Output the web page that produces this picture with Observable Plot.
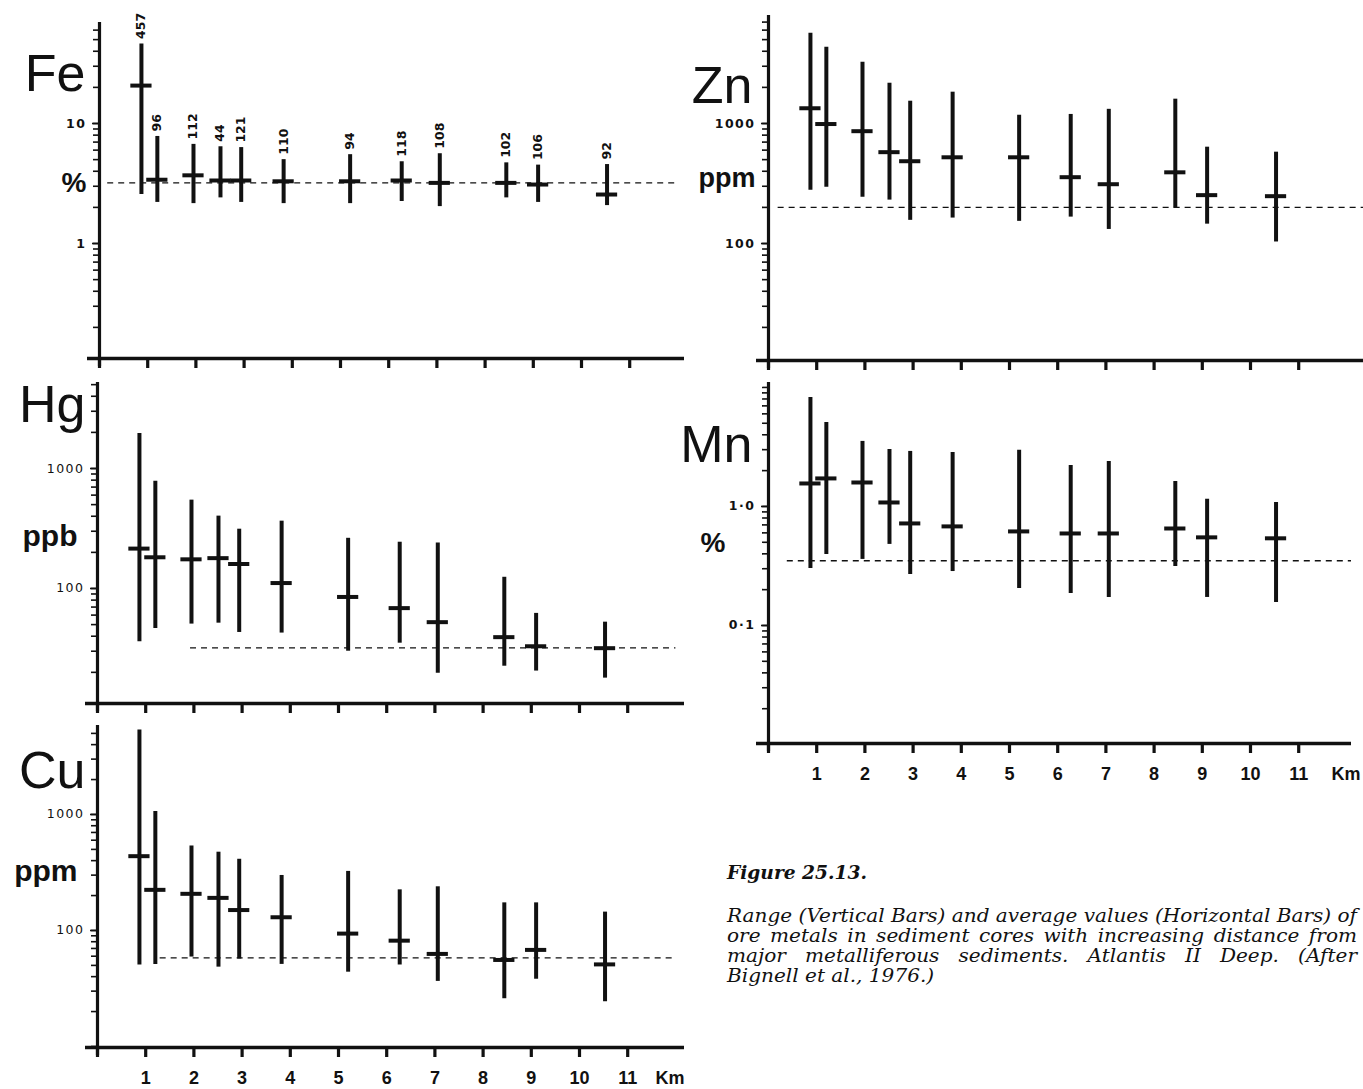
<!DOCTYPE html>
<html><head><meta charset="utf-8">
<script src="https://cdn.jsdelivr.net/npm/d3@7"></script>
<script src="https://cdn.jsdelivr.net/npm/@observablehq/plot@0.6"></script>
<style>
html,body{margin:0;padding:0;background:#fff;overflow:hidden}
#fig{position:relative;width:1363px;height:1089px;overflow:hidden;background:#fff;color:#111}
.panel{position:absolute}
.panel svg{overflow:visible;display:block}
.cap{position:absolute;left:727px;font-family:"DejaVu Serif";font-style:italic;font-size:18px;line-height:20px;color:#111;transform-origin:0 0;white-space:nowrap}
.cap .ln{text-align:justify;text-align-last:justify;white-space:nowrap}
.cap .ln.last{text-align:left;text-align-last:left}
</style></head><body><div id="fig"></div>
<script>
// ---- data ----
const stationKm = [0.87, 1.2, 1.95, 2.51, 2.94, 3.82, 5.2, 6.27, 7.06, 8.44, 9.1, 10.53];

const feCount = [457, 96, 112, 44, 121, 110, 94, 118, 108, 102, 106, 92];
const feMin  = [2.56, 2.2, 2.15, 2.4, 2.2, 2.15, 2.15, 2.24, 2.03, 2.4, 2.2, 2.07];
const feMax  = [46, 7.8, 6.7, 6.4, 6.3, 5.0, 5.5, 4.8, 5.6, 4.7, 4.5, 4.55];
const feMean = [20.7, 3.4, 3.7, 3.35, 3.35, 3.3, 3.3, 3.35, 3.2, 3.2, 3.1, 2.56];
const feBackground = 3.2;

const znMin  = [278, 294, 243, 230, 156, 163, 153, 166, 131, 197, 145, 103];
const znMax  = [5660, 4320, 3240, 2166, 1534, 1824, 1172, 1190, 1313, 1595, 635, 577];
const znMean = [1340, 990, 863, 577, 485, 523, 523, 357, 312, 392, 253, 248];
const znBackground = 200;

const hgMin  = [36, 46.5, 50.5, 51.4, 43, 42.5, 30, 35, 19.7, 22.5, 20.5, 17.9];
const hgMax  = [1958, 783, 545, 401, 312, 364, 262, 243, 239, 124, 62, 52.4];
const hgMean = [215, 182, 175, 179, 160, 111, 85, 68.6, 52.4, 39.3, 33, 31.8];
const hgBackground = 32;

const mnMin  = [0.301, 0.395, 0.359, 0.48, 0.268, 0.284, 0.205, 0.186, 0.172, 0.313, 0.172, 0.156];
const mnMax  = [8.24, 5.08, 3.52, 3.01, 2.9, 2.84, 2.96, 2.21, 2.39, 1.62, 1.15, 1.08];
const mnMean = [1.56, 1.72, 1.59, 1.08, 0.72, 0.68, 0.617, 0.593, 0.593, 0.653, 0.55, 0.54];
const mnBackground = 0.35;

const cuMin  = [50.4, 51, 59, 48.3, 56.7, 51, 43.7, 50.4, 36.4, 25.8, 38, 24.3];
const cuMax  = [5350, 1060, 535, 473, 411, 298, 323, 224, 238, 173, 173, 144];
const cuMean = [437, 224, 207, 191, 150, 130, 94, 81.7, 62.8, 55.7, 68, 51];
const cuBackground = 58;

const kmTicks = [0, 1, 2, 3, 4, 5, 6, 7, 8, 9, 10, 11];
const kmTickText = ["", "1", "2", "3", "4", "5", "6", "7", "8", "9", "10", "11"];
const kmUnit = "Km";

const feTicks = [1, 10], feTickText = ["1", "10"];
const znTicks = [100, 1000], znTickText = ["100", "1000"];
const hgTicks = [100, 1000], hgTickText = ["100", "1000"];
const mnTicks = [0.1, 1], mnTickText = ["0·1", "1·0"];
const cuTicks = [100, 1000], cuTickText = ["100", "1000"];

const captionTitle = "Figure 25.13.";
const captionLines = [
  "Range (Vertical Bars) and average values (Horizontal Bars) of",
  "ore metals in sediment cores with increasing distance from",
  "major metalliferous sediments. Atlantis II Deep. (After",
  "Bignell et al., 1976.)"
];

// ---- drawing ----
function logTicks([lo, hi]) {
  const t = [];
  for (let e = Math.floor(Math.log10(lo)); e <= Math.ceil(Math.log10(hi)); e++)
    for (let m = 1; m <= 9; m++) {
      const v = +(m * Math.pow(10, e)).toPrecision(6);
      if (v > lo * 1.0001 && v <= hi) t.push(v);
    }
  return t;
}

function panel(c) {
  const rows = stationKm.map((km, i) => ({km, min: c.min[i], max: c.max[i], mean: c.mean[i], count: c.count ? c.count[i] : null}));
  const fw = c.width - c.mL - c.mR;
  const kmMax = fw / 48.2;
  const marks = [
    Plot.ruleY([c.bg], {x1: c.bgFrom, x2: c.bgTo ?? kmMax, strokeDasharray: "6,5", strokeWidth: 1.3}),
    Plot.ruleX(rows, {x: "km", y1: "min", y2: "max", strokeWidth: 4}),
    Plot.ruleY(rows, {y: "mean", x1: d => d.km - 0.22, x2: d => d.km + 0.22, strokeWidth: 4}),
    Plot.axisY(logTicks(c.domain), {anchor: "left", tickSize: 6, strokeWidth: 1.6, tickFormat: () => "", label: null}),
    Plot.axisY(c.ticks, {anchor: "left", tickSize: 7, tickPadding: 6, strokeWidth: 1.6, label: null,
      tickFormat: d => c.tickText[c.ticks.indexOf(d)] ?? "",
      fontSize: 12.5, fontWeight: c.tickWeight, fontFamily: "DejaVu Sans"}),
    Plot.ruleX([0], {strokeWidth: 3.2, insetBottom: -8}),
    Plot.ruleY([c.domain[0]], {strokeWidth: 3.6, insetLeft: -12}),
    Plot.axisX(kmTicks, {anchor: "bottom", tickSize: 10, strokeWidth: 3.2, tickPadding: 14, label: null,
      tickFormat: d => c.xLabels ? kmTickText[kmTicks.indexOf(d)] : "",
      fontSize: 18, fontWeight: "bold", fontFamily: "Liberation Sans"}),
    Plot.text([c.name], {frameAnchor: "top-left", text: d => d, dx: c.nameAt[0], dy: c.nameAt[1], textAnchor: "end", lineAnchor: "middle", fontSize: 52, fontFamily: "Liberation Sans"}),
    Plot.text([c.unit], {frameAnchor: "top-left", text: d => d, dx: c.unitAt[0], dy: c.unitAt[1], textAnchor: "end", lineAnchor: "middle", fontSize: c.unitSize, fontWeight: "bold", fontFamily: "Liberation Sans"})
  ];
  if (c.count) marks.push(Plot.text(rows, {x: "km", y: "max", text: "count", rotate: -90, textAnchor: "start", dy: -5, fontSize: 12.5, fontWeight: "bold", fontFamily: "DejaVu Sans"}));
  if (c.xLabels) marks.push(Plot.text([kmUnit], {frameAnchor: "bottom-right", text: d => d, textAnchor: "end", lineAnchor: "top", dx: c.kmDx, dy: 24, fontSize: 18, fontWeight: "bold", fontFamily: "Liberation Sans"}));
  const svg = Plot.plot({
    width: c.width, height: c.height,
    marginLeft: c.mL, marginRight: c.mR, marginTop: c.mT, marginBottom: c.mB,
    style: {background: "none", overflow: "visible", color: "#111"},
    x: {domain: [0, kmMax]},
    y: {type: "log", domain: c.domain},
    marks
  });
  d3.select(svg).selectAll('g[aria-label="y-axis tick label"] text').style("letter-spacing", "1.5px");
  const div = document.createElement("div");
  div.className = "panel";
  div.style.left = c.left + "px"; div.style.top = c.top + "px"; div.style.width = c.width + "px";
  div.appendChild(svg);
  document.getElementById("fig").appendChild(div);
}

panel({name: "Fe", unit: "%", unitSize: 28, min: feMin, max: feMax, mean: feMean, count: feCount,
  bg: feBackground, bgFrom: 0.17, bgTo: 12.0, domain: [0.1101, 69.45], ticks: feTicks, tickText: feTickText, tickWeight: "bold",
  left: 0, top: 0, width: 700, height: 378, mL: 99, mR: 16, mT: 22, mB: 20,
  nameAt: [-14, 52], unitAt: [-13, 161], xLabels: false});

panel({name: "Zn", unit: "ppm", unitSize: 27, min: znMin, max: znMax, mean: znMean,
  bg: znBackground, bgFrom: 0.2, domain: [10.6, 7943], ticks: znTicks, tickText: znTickText, tickWeight: "bold",
  left: 668, top: 0, width: 695, height: 380, mL: 100, mR: 0, mT: 15, mB: 20,
  nameAt: [-16, 71], unitAt: [-13, 163], xLabels: false});

panel({name: "Hg", unit: "ppb", unitSize: 30, min: hgMin, max: hgMax, mean: hgMean,
  bg: hgBackground, bgFrom: 1.93, bgTo: 12.0, domain: [11.0, 5210], ticks: hgTicks, tickText: hgTickText, tickWeight: "normal",
  left: 0, top: 360, width: 700, height: 363, mL: 97, mR: 16, mT: 22, mB: 20,
  nameAt: [-12, 23], unitAt: [-20, 154], xLabels: false});

panel({name: "Mn", unit: "%", unitSize: 28, min: mnMin, max: mnMax, mean: mnMean,
  bg: mnBackground, bgFrom: 0.39, domain: [0.0102, 11.0], ticks: mnTicks, tickText: mnTickText, tickWeight: "bold",
  left: 668, top: 360, width: 695, height: 429, mL: 100, mR: 12, mT: 22, mB: 46,
  nameAt: [-16, 63], unitAt: [-43, 161], xLabels: true, kmDx: 9});

panel({name: "Cu", unit: "ppm", unitSize: 30, min: cuMin, max: cuMax, mean: cuMean,
  bg: cuBackground, bgFrom: 1.3, bgTo: 12.0, domain: [9.8, 5848], ticks: cuTicks, tickText: cuTickText, tickWeight: "normal",
  left: 0, top: 705, width: 700, height: 384, mL: 97, mR: 16, mT: 20, mB: 42,
  nameAt: [-12, 46], unitAt: [-20, 146], xLabels: true, kmDx: 0});

// caption: fitted inside the page
(function () {
  const fig = document.getElementById("fig");
  function measure(text, weight) {
    const probe = document.createElement("span");
    probe.style.cssText = 'position:absolute;visibility:hidden;white-space:nowrap;font-family:"DejaVu Serif";font-style:italic;font-size:18px;font-weight:' + weight;
    probe.textContent = text;
    fig.appendChild(probe);
    const w = probe.getBoundingClientRect().width;
    probe.remove();
    return w;
  }
  const natural = measure(captionLines[0], "normal");
  const s = 630 / natural;
  const tw = measure(captionTitle, "bold");
  const t = document.createElement("div");
  t.className = "cap";
  t.style.top = "863px";
  t.style.fontWeight = "bold";
  t.style.transform = `scaleX(${140 / tw})`;
  t.textContent = captionTitle;
  fig.appendChild(t);
  const b = document.createElement("div");
  b.className = "cap";
  b.style.top = "906px";
  b.style.width = natural + "px";
  b.style.transform = `scaleX(${s})`;
  captionLines.forEach((l, i) => {
    const d = document.createElement("div");
    d.className = "ln" + (i === captionLines.length - 1 ? " last" : "");
    d.textContent = l;
    b.appendChild(d);
  });
  fig.appendChild(b);
})();
</script></body></html>
